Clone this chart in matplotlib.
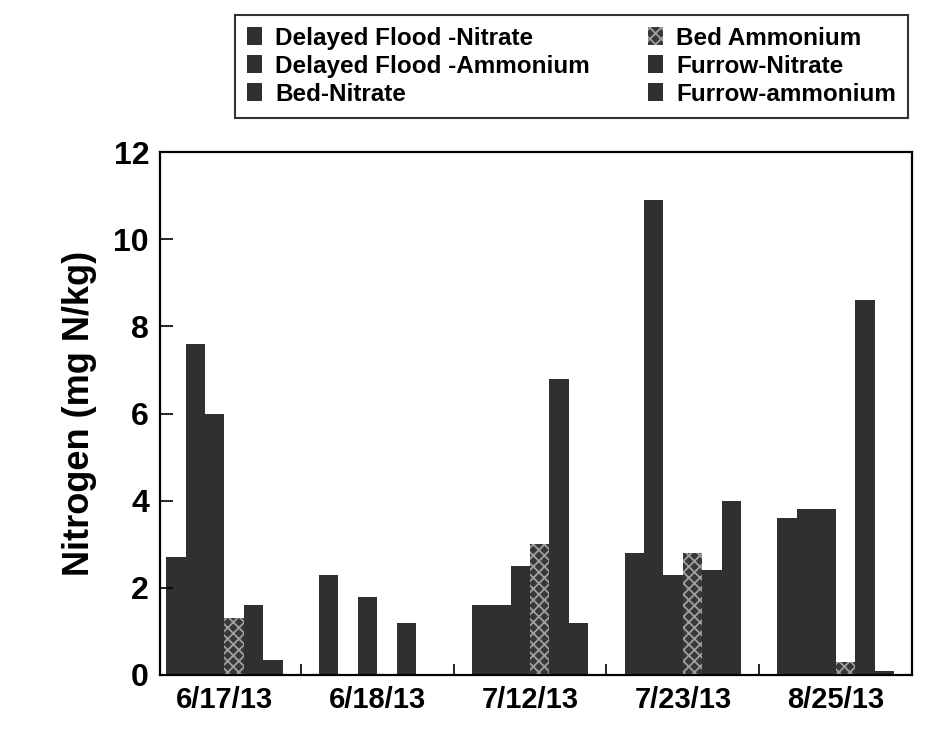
import matplotlib
matplotlib.use("Agg")
import matplotlib.pyplot as plt
import numpy as np

plt.rcParams['font.family'] = ['Liberation Sans', 'DejaVu Sans']
plt.rcParams['font.weight'] = 'bold'
plt.rcParams['hatch.linewidth'] = 1.3

dates = ["6/17/13", "6/18/13", "7/12/13", "7/23/13", "8/25/13"]
series_names = ["Delayed Flood -Nitrate", "Delayed Flood -Ammonium", "Bed-Nitrate",
                "Bed Ammonium", "Furrow-Nitrate", "Furrow-ammonium"]
df_nitrate = [2.7, 2.3, 1.6, 2.8, 3.6]
df_ammonium = [7.6, 0.0, 1.6, 10.9, 3.8]
bed_nitrate = [6.0, 1.8, 2.5, 2.3, 3.8]
bed_ammonium = [1.3, 0.0, 3.0, 2.8, 0.3]
furrow_nitrate = [1.6, 1.2, 6.8, 2.4, 8.6]
furrow_ammonium = [0.35, 0.0, 1.2, 4.0, 0.1]
y_ticks = [0, 2, 4, 6, 8, 10, 12]

values = [df_nitrate, df_ammonium, bed_nitrate, bed_ammonium, furrow_nitrate, furrow_ammonium]

fig = plt.figure(figsize=(9.26, 7.32), dpi=100)
ax = fig.add_axes([0.173, 0.078, 0.812, 0.714])

x = np.arange(len(dates))
w = 0.127
dark = '#303030'
handles = []
for i, (name, vals) in enumerate(zip(series_names, values)):
    offs = (i - 2.5) * w
    if name == "Bed Ammonium":
        b = ax.bar(x + offs, vals, width=w, color='#383838', edgecolor='#a0a0a0',
                   hatch='xxx', linewidth=0, label=name)
    else:
        b = ax.bar(x + offs, vals, width=w, color=dark, linewidth=0, label=name)
    handles.append(b)

ax.set_xlim(-0.42, 4.5)
ax.set_ylim(0, 12)
ax.set_yticks(y_ticks)
ax.set_yticklabels([str(t) for t in y_ticks], fontsize=23, fontweight='bold')
ax.set_xticks(x)
ax.set_xticklabels(dates, fontsize=21, fontweight='bold')
ax.set_xticks([0.5, 1.5, 2.5, 3.5], minor=True)
ax.tick_params(axis='x', which='major', length=0, pad=8)
ax.tick_params(axis='x', which='minor', direction='in', length=8, width=1.2)
ax.tick_params(axis='y', direction='in', length=9, width=1.2, pad=8)
for s in ax.spines.values():
    s.set_linewidth(1.6)
ax.set_ylabel("Nitrogen (mg N/kg)", fontsize=26, fontweight='bold', labelpad=12)

leg = fig.legend(handles, series_names,
                 ncol=2, loc='upper left', bbox_to_anchor=(0.254, 0.98),
                 borderaxespad=0,
                 prop={'weight': 'bold', 'size': 17.5},
                 frameon=True, fancybox=False, edgecolor='black',
                 handlelength=0.6, handleheight=0.75, handletextpad=0.55,
                 columnspacing=2.4, labelspacing=0.2, borderpad=0.5)
leg.get_frame().set_linewidth(1.5)

fig.savefig("out.png", dpi=100)
